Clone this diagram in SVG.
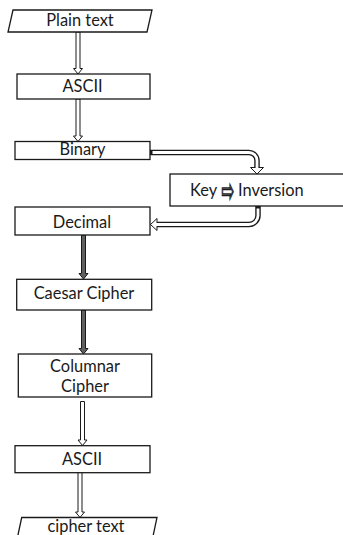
<svg xmlns="http://www.w3.org/2000/svg" width="343" height="535" viewBox="0 0 343 535">
  <style>
    .box { fill: #ffffff; stroke: #1a1a1a; stroke-width: 1.3; }
    .lbl { font-family: Lato, "Liberation Sans", sans-serif; font-size: 16.4px; fill: #1a1a1a; text-anchor: middle; }
    .sym { font-family: "DejaVu Sans", sans-serif; font-size: 19px; fill: #ffffff; stroke: #1a1a1a; stroke-width: 0.8; }
    .arw { fill: #ffffff; stroke: #1a1a1a; stroke-width: 1; stroke-linejoin: miter; }
    .arw-dark { fill: #606060; stroke: #1a1a1a; stroke-width: 1; }
    .tube-out { fill: none; stroke: #1a1a1a; stroke-width: 5.5; }
    .tube-in { fill: none; stroke: #ffffff; stroke-width: 2.8; }
  </style>
  <rect width="343" height="535" fill="#ffffff"/>

  <!-- connectors -->
  <g id="connectors">
    <!-- straight hollow arrows -->
    <path class="arw" d="M76,32 V68.5 H73.5 L78,74 L82.5,68.5 H80 V32 Z"/>
    <path class="arw" d="M76,99 V136 H73.5 L78,141.5 L82.5,136 H80 V99 Z"/>
    <!-- filled arrows -->
    <path class="arw-dark" d="M81.5,235 V273.5 H79 L83.5,279 L88,273.5 H85.5 V235 Z"/>
    <path class="arw-dark" d="M81.5,310 V348.5 H79 L83.5,354 L88,348.5 H85.5 V310 Z"/>
    <path class="arw" d="M80.5,401.5 V440 H78 L82.5,445.5 L87,440 H84.5 V401.5 Z"/>
    <path class="arw" d="M78,472.5 V512 H75.5 L80,517.5 L84.5,512 H82 V472.5 Z"/>

    <!-- Binary to Key Inversion -->
    <path class="tube-out" d="M150,152.5 H249 A8,8 0 0 1 257,160.5 V168"/>
    <path class="arw" d="M250.5,167.5 L263.5,167.5 L257,174 Z"/>
    <path class="tube-in" d="M152.5,152.5 H249 A8,8 0 0 1 257,160.5 V169"/>

    <!-- Key Inversion to Decimal -->
    <path class="tube-out" d="M258,206 V215.5 A9,9 0 0 1 249,224.5 H156.5"/>
    <path class="arw" d="M157,218.5 L157,230.5 L150.5,224.5 Z"/>
    <path class="tube-in" d="M258,208.5 V215.5 A9,9 0 0 1 249,224.5 H155.5"/>
  </g>

  <g id="plain-text">
    <polygon class="box" points="13,10 152,10 147,32 8,32"/>
    <text class="lbl" x="80" y="25.5">Plain text</text>
  </g>

  <g id="ascii-in">
    <rect class="box" x="17" y="74" width="133" height="25"/>
    <text class="lbl" x="82.5" y="91.7">ASCII</text>
  </g>

  <g id="binary">
    <rect class="box" x="15" y="141.5" width="135" height="18"/>
    <text class="lbl" x="82.5" y="155">Binary</text>
  </g>

  <g id="key-inversion">
    <rect class="box" x="170" y="174" width="190" height="32"/>
    <text class="lbl" style="text-anchor:start" x="190" y="196.4">Key</text>
    <text class="sym" transform="translate(221.5,202) scale(0.8,1.7)">⇨</text>
    <text class="lbl" style="text-anchor:start" x="238" y="196.4">Inversion</text>
  </g>

  <g id="decimal">
    <rect class="box" x="15" y="207" width="135" height="28"/>
    <text class="lbl" x="82" y="228.4">Decimal</text>
  </g>

  <g id="caesar">
    <rect class="box" x="16.7" y="279.3" width="135" height="30.7"/>
    <text class="lbl" x="84" y="298.7">Caesar Cipher</text>
  </g>

  <g id="columnar">
    <rect class="box" x="18.3" y="354" width="133.4" height="43"/>
    <text class="lbl" x="85" y="371.7">Columnar</text>
    <text class="lbl" x="85" y="392.3">Cipher</text>
  </g>

  <g id="ascii-out">
    <rect class="box" x="15" y="445.7" width="135" height="27"/>
    <text class="lbl" x="82" y="465">ASCII</text>
  </g>

  <g id="cipher-text">
    <polygon class="box" points="21.7,517.5 157,517.5 152,541 16.7,541"/>
    <text class="lbl" x="86" y="531.7">cipher text</text>
  </g>
</svg>
